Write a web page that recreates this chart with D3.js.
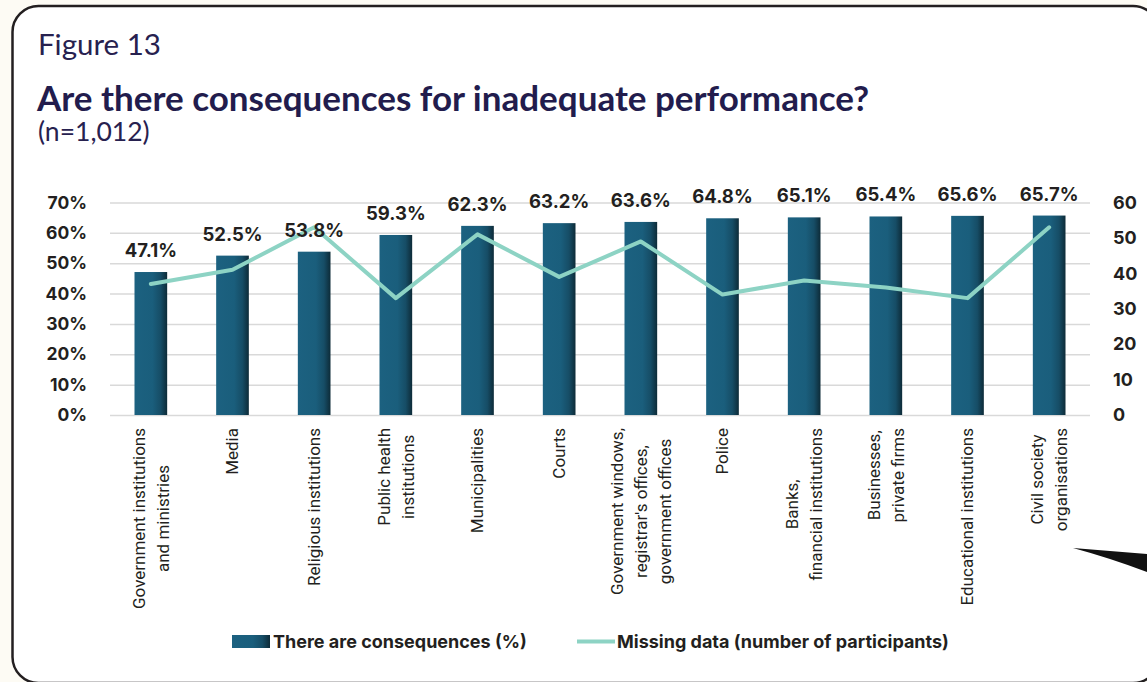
<!DOCTYPE html>
<html>
<head>
<meta charset="utf-8">
<script src="https://cdn.jsdelivr.net/npm/d3@7/dist/d3.min.js"></script>
<style>
  html, body { margin: 0; padding: 0; background: #fdfbf4; }
  svg { display: block; }
</style>
</head>
<body>
<svg id="chart" width="1147" height="682"></svg>
<script>
// Institutions surveyed
const categories = [
  "Government institutions\nand ministries",
  "Media",
  "Religious institutions",
  "Public health\ninstitutions",
  "Municipalities",
  "Courts",
  "Government windows,\nregistrar's offices,\ngovernment offices",
  "Police",
  "Banks,\nfinancial institutions",
  "Businesses,\nprivate firms",
  "Educational institutions",
  "Civil society\norganisations"
];

// Share who say there are consequences (%)
const consequences = [47.1, 52.5, 53.8, 59.3, 62.3, 63.2, 63.6, 64.8, 65.1, 65.4, 65.6, 65.7];

// Missing data (number of participants)
const missing = [37, 41, 53, 33, 51, 39, 49, 34, 38, 36, 33, 53];

const leftTicks = [0, 10, 20, 30, 40, 50, 60, 70];
const rightTicks = [0, 10, 20, 30, 40, 50, 60];

const seriesNames = ["There are consequences (%)", "Missing data (number of participants)"];

const svg = d3.select("#chart");

const ink = "#231f20";
const navy = "#27214f";
const teal = "#8dd3c4";
const labelFont = "Inter, 'Open Sans', sans-serif";

// Gradient used for the bars (flat blue with a dark right-hand edge)
const defs = svg.append("defs");
const grad = defs.append("linearGradient").attr("id", "barGrad")
  .attr("x1", "0%").attr("x2", "100%").attr("y1", "0%").attr("y2", "0%");
grad.append("stop").attr("offset", "0%").attr("stop-color", "#1c6180");
grad.append("stop").attr("offset", "55%").attr("stop-color", "#1a5e7c");
grad.append("stop").attr("offset", "80%").attr("stop-color", "#164d66");
grad.append("stop").attr("offset", "100%").attr("stop-color", "#0d2b38");

// Card frame
svg.append("rect")
  .attr("x", 12.5).attr("y", 6)
  .attr("width", 1146.5).attr("height", 677)
  .attr("rx", 26).attr("ry", 26)
  .attr("fill", "#ffffff")
  .attr("stroke", ink).attr("stroke-width", 2.5);

// Callout pointer in the lower right corner
svg.append("path")
  .attr("d", "M1073,548 L1147,554 L1147,572 Q1110,558 1073,548 Z")
  .attr("fill", "#111111");

// Headings
svg.append("text").attr("x", 38).attr("y", 55)
  .attr("font-family", "Lato, sans-serif").attr("font-size", 29.5)
  .attr("fill", navy).text("Figure 13");
svg.append("text").attr("x", 37).attr("y", 111)
  .attr("font-family", "Lato, sans-serif").attr("font-weight", 700).attr("font-size", 35)
  .attr("fill", "#221c4d").text("Are there consequences for inadequate performance?");
svg.append("text").attr("x", 38).attr("y", 141)
  .attr("font-family", "Lato, sans-serif").attr("font-size", 26.5)
  .attr("fill", navy).text("(n=1,012)");

// Scales
const plotLeft = 110, plotRight = 1090, plotTop = 202.5, plotBottom = 415;
const x = d3.scaleBand().domain(categories)
  .range([plotLeft, plotRight]).paddingInner(0.6).paddingOuter(0.3);
const yL = d3.scaleLinear().domain([0, 70]).range([plotBottom, plotTop]);
const yR = d3.scaleLinear().domain([0, 60]).range([plotBottom, plotTop]);

// Gridlines + left axis
const gridAxis = d3.axisLeft(yL).tickValues(leftTicks)
  .tickSize(-(plotRight - plotLeft)).tickFormat(d => d + "%").tickPadding(23);
const gL = svg.append("g").attr("transform", `translate(${plotLeft},0)`).call(gridAxis);
gL.select(".domain").remove();
gL.selectAll(".tick line").attr("stroke", "#d9d9d9").attr("stroke-width", 1.5);
gL.selectAll(".tick text")
  .attr("font-family", labelFont).attr("font-weight", 700).attr("font-size", 17.5)
  .attr("fill", ink);

// Right axis
const axR = d3.axisRight(yR).tickValues(rightTicks).tickSize(0).tickPadding(23);
const gR = svg.append("g").attr("transform", `translate(${plotRight},0)`).call(axR);
gR.select(".domain").remove();
gR.selectAll(".tick text")
  .attr("font-family", labelFont).attr("font-weight", 700).attr("font-size", 18)
  .attr("fill", ink);

// Bars
svg.append("g").selectAll("rect").data(categories).join("rect")
  .attr("x", d => x(d))
  .attr("width", x.bandwidth())
  .attr("y", (d, i) => yL(consequences[i]))
  .attr("height", (d, i) => plotBottom - yL(consequences[i]))
  .attr("fill", "url(#barGrad)");

// Missing-data line
const line = d3.line()
  .x((d, i) => x(categories[i]) + x.bandwidth() / 2)
  .y(d => yR(d));
svg.append("path").datum(missing)
  .attr("d", line)
  .attr("fill", "none").attr("stroke", teal)
  .attr("stroke-width", 4).attr("stroke-linejoin", "round").attr("stroke-linecap", "round");

// Value labels above the bars
svg.append("g").selectAll("text").data(categories).join("text")
  .attr("x", d => x(d) + x.bandwidth() / 2)
  .attr("y", (d, i) => yL(consequences[i]) - 15)
  .attr("text-anchor", "middle")
  .attr("font-family", labelFont).attr("font-weight", 700).attr("font-size", 18.5)
  .attr("fill", ink)
  .text((d, i) => consequences[i].toFixed(1) + "%");

// Category labels, rotated, lines centred on each other and top-aligned under the axis
const lineGap = 24;
const labelTop = 428;
const gx = svg.append("g");
categories.forEach(cat => {
  const lines = cat.split("\n");
  const cx = x(cat) + x.bandwidth() / 2;
  const g = gx.append("g").attr("transform", `translate(${cx},${labelTop}) rotate(-90)`);
  const t = g.append("text")
    .attr("font-family", "Roboto, sans-serif").attr("font-size", 17)
    .attr("fill", ink).attr("text-anchor", "middle");
  const spans = lines.map((s, i) => t.append("tspan")
    .attr("x", 0)
    .attr("y", (i - (lines.length - 1) / 2) * lineGap)
    .attr("dy", "0.35em")
    .text(s));
  const maxLen = d3.max(spans, s => s.node().getComputedTextLength());
  spans.forEach(s => s.attr("x", -maxLen / 2));
});

// Legend
const legY = 641.5;
svg.append("rect").attr("x", 232).attr("y", legY - 6.5).attr("width", 38).attr("height", 13)
  .attr("fill", "url(#barGrad)");
svg.append("text").attr("x", 273).attr("y", legY).attr("dy", "0.35em")
  .attr("font-family", labelFont).attr("font-weight", 700).attr("font-size", 18)
  .attr("fill", ink).text(seriesNames[0]);
svg.append("line").attr("x1", 577).attr("x2", 615).attr("y1", legY).attr("y2", legY)
  .attr("stroke", teal).attr("stroke-width", 4);
svg.append("text").attr("x", 617).attr("y", legY).attr("dy", "0.35em")
  .attr("font-family", labelFont).attr("font-weight", 700).attr("font-size", 18)
  .attr("fill", ink).text(seriesNames[1]);
</script>
</body>
</html>
